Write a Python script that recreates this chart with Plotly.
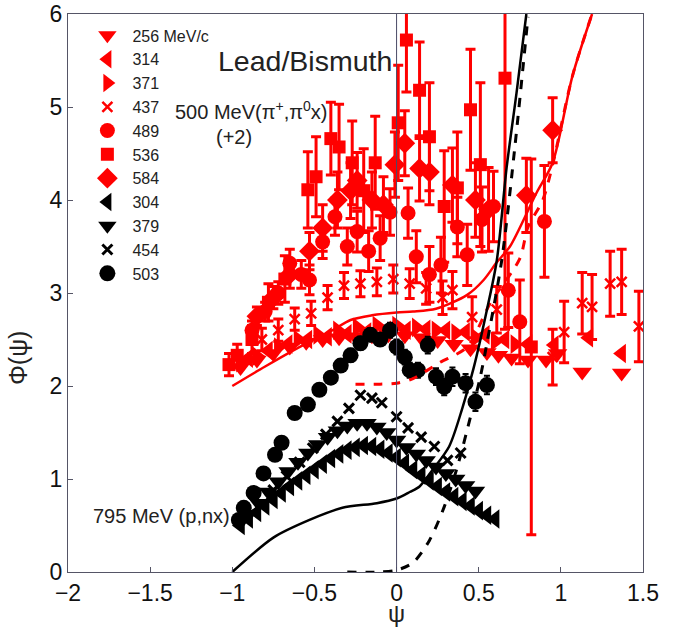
import plotly.graph_objects as go

# ---------------- data (pion series already include the +2 offset) ----------------
# 256 MeV/c  (red, down triangles)
p256_x = [-0.95,-0.85,-0.75,-0.65,-0.55,-0.45,-0.35,-0.25,-0.15,-0.05,0.05,0.15,0.25,0.35,0.45,0.55,0.62,0.70,0.80,0.91,0.98,1.13,1.37]
p256_y = [2.20,2.28,2.35,2.42,2.47,2.50,2.52,2.53,2.54,2.55,2.54,2.52,2.49,2.45,2.40,2.36,2.33,2.30,2.28,2.28,2.35,2.15,2.14]
# 314 (red, left triangles)
p314_x = [-0.90,-0.78,-0.66,-0.54,-0.42,-0.30,-0.18,-0.06,0.06,0.18,0.30,0.42,0.54,0.66,0.80,0.96,1.17,1.37]
p314_y = [2.30,2.38,2.45,2.50,2.53,2.56,2.58,2.60,2.60,2.61,2.60,2.58,2.55,2.50,2.45,2.44,2.52,2.35]
# 371 (red, right triangles)
p371_x = [-0.95,-0.85,-0.72,-0.60,-0.48,-0.36,-0.24,-0.12,0.00,0.12,0.24,0.36,0.48,0.60,0.72]
p371_y = [2.25,2.32,2.42,2.50,2.55,2.60,2.63,2.65,2.65,2.63,2.60,2.57,2.52,2.48,2.45]
# 437 (red, crosses)
p437_x = [-0.82,-0.72,-0.62,-0.52,-0.42,-0.32,-0.22,-0.12,-0.02,0.08,0.18,0.28,0.34,0.46,0.61,0.95,1.02,1.13,1.19,1.30,1.37,1.475]
p437_y = [2.50,2.60,2.72,2.78,2.95,3.08,3.10,3.12,3.15,3.10,3.05,2.95,3.03,2.74,2.82,2.31,2.58,2.89,2.85,3.10,3.12,2.64]
p437_e = [0.12,0.12,0.12,0.13,0.13,0.14,0.14,0.15,0.15,0.16,0.17,0.18,0.20,0.22,0.25,0.30,0.33,0.33,0.35,0.35,0.35,0.38]
# 489 (red, circles)
p489_x = [-0.88,-0.80,-0.72,-0.65,-0.58,-0.53,-0.45,-0.375,-0.30,-0.24,-0.17,-0.10,-0.04,0.07,0.12,0.20,0.27,0.37,0.43,0.52,0.59,0.68,0.75,0.90]
p489_y = [2.60,2.80,3.00,3.32,3.20,3.14,3.55,3.82,3.50,3.66,3.45,3.59,3.87,3.86,3.39,3.20,3.30,3.71,3.41,3.79,3.93,3.03,2.69,3.77]
p489_e = [0.10,0.10,0.12,0.15,0.15,0.16,0.18,0.20,0.20,0.22,0.22,0.24,0.25,0.27,0.28,0.30,0.30,0.32,0.33,0.35,0.38,0.40,0.45,0.60]
# 536 (red, squares)
p536_x = [-1.02,-0.97,-0.88,-0.78,-0.68,-0.54,-0.49,-0.40,-0.35,-0.27,-0.20,-0.13,0.01,0.06,0.14,0.20,0.29,0.37,0.45,0.51,0.66,0.82]
p536_y = [2.23,2.33,2.50,2.90,3.15,4.11,4.25,4.66,4.57,4.40,4.10,4.40,4.83,5.72,5.18,4.68,3.93,4.13,4.97,4.38,5.31,2.42]
p536_e = [0.12,0.12,0.15,0.20,0.25,0.41,0.43,0.39,0.46,0.45,0.45,0.50,0.62,0.56,0.52,0.58,0.60,0.60,0.65,0.88,2.70,2.02]
# 584 (red, diamonds)
p584_x = [-0.85,-0.75,-0.65,-0.53,-0.45,-0.36,-0.28,-0.24,-0.15,-0.08,-0.01,0.05,0.14,0.20,0.34,0.48,0.56,0.79,0.95]
p584_y = [2.75,2.95,3.20,3.45,3.70,4.00,4.10,4.21,4.00,3.95,4.38,4.61,4.34,4.30,4.16,4.00,3.90,4.05,4.75]
p584_e = [0.10,0.12,0.15,0.20,0.25,0.30,0.30,0.30,0.30,0.30,0.35,0.35,0.35,0.35,0.40,0.40,0.45,0.40,0.35]

# 795 MeV (p,nx) series (black)
n304_x = [-0.95,-0.90,-0.85,-0.80,-0.75,-0.70,-0.65,-0.60,-0.55,-0.50,-0.45,-0.40,-0.35,-0.30,-0.25,-0.20,-0.15,-0.10,-0.05,0.00,0.05,0.10,0.15,0.20,0.25,0.30,0.35,0.40,0.45,0.50,0.55,0.60]
n304_y = [0.50,0.57,0.64,0.71,0.78,0.85,0.92,0.98,1.04,1.10,1.16,1.22,1.27,1.31,1.34,1.36,1.35,1.32,1.28,1.23,1.17,1.10,1.04,0.98,0.92,0.86,0.81,0.76,0.71,0.66,0.61,0.57]
n379_x = [-0.90,-0.84,-0.78,-0.72,-0.66,-0.60,-0.54,-0.48,-0.42,-0.36,-0.30,-0.24,-0.18,-0.12,-0.06,0.00,0.06,0.12,0.18,0.24,0.30,0.36,0.42,0.48]
n379_y = [0.62,0.74,0.86,0.97,1.08,1.18,1.28,1.37,1.45,1.52,1.57,1.60,1.60,1.56,1.50,1.42,1.34,1.27,1.20,1.13,1.06,1.00,0.93,0.87]
n454_x = [-0.92,-0.83,-0.75,-0.67,-0.59,-0.51,-0.43,-0.36,-0.29,-0.22,-0.15,-0.09,0.00,0.07,0.15,0.23,0.31,0.39]
n454_y = [0.60,0.72,0.88,1.03,1.18,1.33,1.48,1.62,1.76,1.90,1.87,1.82,1.67,1.55,1.45,1.35,1.20,1.28]
n503_x = [-0.96,-0.93,-0.87,-0.81,-0.74,-0.70,-0.62,-0.54,-0.47,-0.40,-0.34,-0.28,-0.22,-0.16,-0.10,-0.04,0.00,0.05,0.08,0.13,0.19,0.24,0.29,0.34,0.42,0.48,0.55]
n503_y = [0.56,0.69,0.85,1.06,1.26,1.39,1.71,1.80,1.96,2.09,2.22,2.33,2.46,2.55,2.50,2.60,2.42,2.31,2.17,2.17,2.44,2.10,1.99,2.10,2.03,1.83,2.01]
n503_e = [0.04,0.04,0.04,0.05,0.05,0.05,0.05,0.06,0.06,0.06,0.06,0.07,0.07,0.07,0.07,0.08,0.08,0.08,0.08,0.08,0.09,0.09,0.09,0.10,0.10,0.10,0.10]

# model curves
red_solid_x = [-1.0,-0.8,-0.6,-0.4,-0.28,-0.15,0.0,0.1,0.24,0.43,0.53,0.61,0.69,0.85,0.95,1.07,1.19]
red_solid_y = [2.00,2.21,2.41,2.59,2.71,2.76,2.79,2.80,2.83,2.98,3.14,3.33,3.50,4.07,4.40,5.33,6.00]
red_dash_x = [-0.25,-0.1,0.0,0.1,0.26,0.43,0.57,0.75,0.80,0.89,0.95,1.07,1.19]
red_dash_y = [2.02,2.02,2.03,2.08,2.25,2.42,2.89,3.37,3.71,4.00,4.38,5.33,6.00]
blk_solid_x = [-1.0,-0.75,-0.53,-0.33,-0.12,0.0,0.08,0.14,0.22,0.32,0.40,0.47,0.55,0.61,0.67,0.73,0.79]
blk_solid_y = [0.00,0.37,0.56,0.69,0.74,0.79,0.86,0.92,1.10,1.35,1.76,2.20,2.82,3.35,4.35,5.15,6.00]
blk_dash_x = [-0.3,-0.1,0.0,0.1,0.2,0.29,0.37,0.45,0.51,0.55,0.64,0.72,0.80]
blk_dash_y = [0.00,0.00,0.02,0.10,0.34,0.70,1.13,1.67,2.10,2.46,3.35,4.57,5.97]

x_ticks = [-2, -1.5, -1, -0.5, 0, 0.5, 1, 1.5]
y_ticks = [0, 1, 2, 3, 4, 5, 6]

RED = "#ff0000"
BLK = "#000000"
FONT = "Liberation Sans, Arial, sans-serif"

fig = go.Figure()

def add_series(name, xs, ys, color, symbol, size, err=None, ethick=3, ewidth=5, lw=0):
    kw = {}
    if err is not None:
        kw["error_y"] = dict(type="data", array=err, visible=True, color=color,
                             thickness=ethick, width=ewidth)
    fig.add_trace(go.Scatter(
        x=xs, y=ys, mode="markers", name=name, legendgroup=name,
        marker=dict(symbol=symbol, size=size, color=color,
                    line=dict(width=lw, color=color)),
        **kw))

add_series("256 MeV/c", p256_x, p256_y, RED, "triangle-down", 17)
add_series("314", p314_x, p314_y, RED, "triangle-left", 17)
add_series("371", p371_x, p371_y, RED, "triangle-right", 17)
add_series("437", p437_x, p437_y, RED, "x-thin", 10, p437_e, lw=2.5)
add_series("489", p489_x, p489_y, RED, "circle", 15, p489_e)
add_series("536", p536_x, p536_y, RED, "square", 13, p536_e)
add_series("584", p584_x, p584_y, RED, "diamond", 16, p584_e)
add_series("304", n304_x, n304_y, BLK, "triangle-left", 17)
add_series("379", n379_x, n379_y, BLK, "triangle-down", 17)
add_series("454", n454_x, n454_y, BLK, "x-thin", 10, lw=3)
add_series("503", n503_x, n503_y, BLK, "circle", 16, n503_e, ethick=2, ewidth=3)

def add_curve(xs, ys, color, dash, width):
    fig.add_trace(go.Scatter(x=xs, y=ys, mode="lines", showlegend=False,
                             line=dict(color=color, dash=dash, width=width, shape="spline", smoothing=0.8),
                             hoverinfo="skip"))

add_curve(red_solid_x, red_solid_y, RED, "solid", 2.5)
add_curve(red_dash_x, red_dash_y, RED, "dash", 3)
add_curve(blk_solid_x, blk_solid_y, BLK, "solid", 2.5)
add_curve(blk_dash_x, blk_dash_y, BLK, "dash", 3)

fig.add_shape(type="line", x0=0, x1=0, y0=0, y1=6, xref="x", yref="y",
              line=dict(color="#4a4a66", width=1), layer="above")

TXT = "#222222"
fig.add_annotation(x=-0.56, y=5.50, xref="x", yref="y", text="Lead/Bismuth", showarrow=False,
                   font=dict(family=FONT, size=28.5, color=TXT))
fig.add_annotation(x=-1.361, y=4.96, xref="x", yref="y", xanchor="left",
                   text="500 MeV(π<sup>+</sup>,π<sup>0</sup>x)",
                   showarrow=False, font=dict(family=FONT, size=20, color=TXT))
fig.add_annotation(x=-0.99, y=4.68, xref="x", yref="y", text="(+2)", showarrow=False,
                   font=dict(family=FONT, size=20, color=TXT))
fig.add_annotation(x=-1.43, y=0.60, xref="x", yref="y", text="795 MeV (p,nx)", showarrow=False,
                   font=dict(family=FONT, size=20, color=TXT))
# axis labels
fig.add_annotation(x=-0.087, xref="paper", y=2.3, yref="y", xanchor="center", yanchor="middle",
                   text="Φ(ψ)", textangle=-90,
                   showarrow=False, font=dict(family=FONT, size=25, color=TXT))
fig.add_annotation(x=0, xref="x", y=-0.075, yref="paper", xanchor="center", yanchor="middle",
                   text="ψ", showarrow=False, font=dict(family=FONT, size=24, color=TXT))

axis_common = dict(showgrid=False, zeroline=False, showline=True, linecolor="#555566",
                   linewidth=1, mirror=True, ticks="inside", ticklen=5, tickcolor="#555566",
                   automargin=False, ticklabeloverflow="allow",
                   tickfont=dict(family=FONT, size=23, color="#111111"))

fig.update_layout(
    width=678, height=634,
    margin=dict(l=68, r=35, t=14, b=62),
    paper_bgcolor="white", plot_bgcolor="white",
    font=dict(family=FONT, color=TXT),
    xaxis=dict(range=[-2, 1.5], tickvals=x_ticks, **axis_common),
    yaxis=dict(range=[0, 6], tickvals=y_ticks, **axis_common),
    legend=dict(x=0.025, y=0.992, xanchor="left", yanchor="top", bgcolor="rgba(0,0,0,0)",
                font=dict(family=FONT, size=16, color=TXT), tracegroupgap=0,
                traceorder="grouped", itemsizing="trace", itemwidth=40),
    showlegend=True,
)

fig.write_html("out.html", config={"displayModeBar": False},
               post_script="document.body.style.margin='0px';")
